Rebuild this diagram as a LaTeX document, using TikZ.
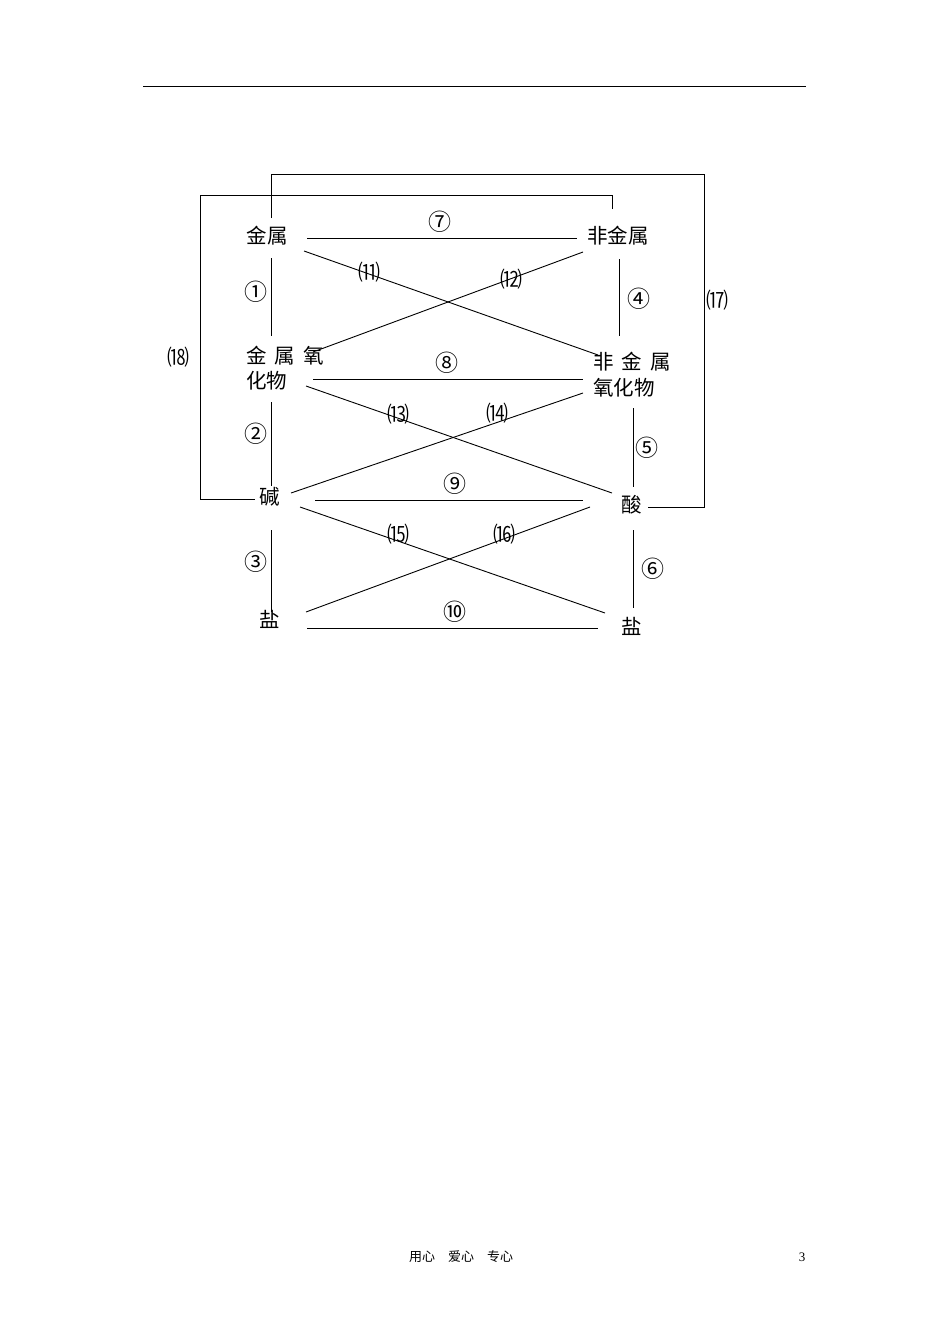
\documentclass[tikz,border=0pt]{standalone}
\usepackage{fontspec}
\setmainfont{Liberation Serif}
\newfontfamily\cjk{Noto Sans CJK SC}
\begin{document}
\begin{tikzpicture}[x=1pt,y=-1pt,
  lbl/.style={font=\cjk\fontsize{20.5}{20.5}\selectfont, inner sep=0pt},
  num/.style={font=\cjk\fontsize{23}{23}\selectfont, inner sep=0pt},
  pnum/.style={font=\cjk\fontsize{22}{22}\selectfont, inner sep=0pt},
  foot/.style={font=\cjk\fontsize{13}{13}\selectfont, inner sep=0pt},
  ln/.style={line width=0.9pt, black}]
\useasboundingbox (0,0) rectangle (950,1344);
% header rule
\coordinate (h1) at (143,86); \coordinate (h2) at (806,86);
\draw[line width=0.9pt] (h1) -- (h2);
% nodes
\node[lbl] (js) at (267,236) {金属};
\node[lbl] (fjs) at (618,236) {非金属};
\node[lbl, anchor=west] (jsy1) at (246,356) {金\hspace{8pt}属\hspace{8pt}氧};
\node[lbl, anchor=west] (jsy2) at (246,381) {化物};
\node[lbl, anchor=west] (fjy1) at (593,362) {非\hspace{8pt}金\hspace{8pt}属};
\node[lbl, anchor=west] (fjy2) at (593,388) {氧化物};
\node[lbl] (jian) at (270,497) {碱};
\node[lbl] (suan) at (632,505) {酸};
\node[lbl] (yanl) at (270,619) {盐};
\node[lbl] (yanr) at (632,626) {盐};
% numbers
\node[num] (n1) at (256,292) {①};
\node[num] (n2) at (256,434) {②};
\node[num] (n3) at (256,562) {③};
\node[num] (n4) at (639,299) {④};
\node[num] (n5) at (647,448) {⑤};
\node[num] (n6) at (653,569) {⑥};
\node[num] (n7) at (440,222) {⑦};
\node[num] (n8) at (447,363) {⑧};
\node[num] (n9) at (455,484) {⑨};
\node[num] (n10) at (455,612) {⑩};
\node[pnum] (n11) at (369,272) {⑾};
\node[pnum] (n12) at (511,279) {⑿};
\node[pnum] (n13) at (398,414) {⒀};
\node[pnum] (n14) at (497,413) {⒁};
\node[pnum] (n15) at (398,534) {⒂};
\node[pnum] (n16) at (504,534) {⒃};
\node[pnum] (n17) at (717,300) {⒄};
\node[pnum] (n18) at (178,357) {⒅};
% footer
\node[foot] (ft) at (461,1257) {用心\hspace{13pt}爱心\hspace{13pt}专心};
\node[font=\fontsize{13}{13}\selectfont, inner sep=0pt] (pg) at (802,1257) {3};
% coordinates for connectors
\coordinate (a1) at (307,238); \coordinate (a2) at (577,238);
\coordinate (b1) at (313,379); \coordinate (b2) at (583,379);
\coordinate (c1) at (315,500); \coordinate (c2) at (583,500);
\coordinate (d1) at (307,628); \coordinate (d2) at (598,628);
\coordinate (v1a) at (271,258); \coordinate (v1b) at (271,336);
\coordinate (v2a) at (271,402); \coordinate (v2b) at (271,486);
\coordinate (v3a) at (271,530); \coordinate (v3b) at (271,612);
\coordinate (v4a) at (619,259); \coordinate (v4b) at (619,336);
\coordinate (v5a) at (633,408); \coordinate (v5b) at (633,487);
\coordinate (v6a) at (633,530); \coordinate (v6b) at (633,608);
\coordinate (x11a) at (304,251); \coordinate (x11b) at (598,355);
\coordinate (x12a) at (583,252); \coordinate (x12b) at (313,352);
\coordinate (x13a) at (306,386); \coordinate (x13b) at (612,493);
\coordinate (x14a) at (583,393); \coordinate (x14b) at (291,493);
\coordinate (x15a) at (300,507); \coordinate (x15b) at (605,613);
\coordinate (x16a) at (590,507); \coordinate (x16b) at (306,612);
% bracket 17
\coordinate (k1) at (271,218); \coordinate (k2) at (271,174);
\coordinate (k3) at (704,174); \coordinate (k4) at (704,507);
\coordinate (k5) at (648,507);
% bracket 18
\coordinate (m1) at (612,209); \coordinate (m2) at (612,195);
\coordinate (m3) at (200,195); \coordinate (m4) at (200,499);
\coordinate (m5) at (255,499);
% connectors
\draw[ln] (a1) -- (a2);
\draw[ln] (b1) -- (b2);
\draw[ln] (c1) -- (c2);
\draw[ln] (d1) -- (d2);
\draw[ln] (v1a) -- (v1b);
\draw[ln] (v2a) -- (v2b);
\draw[ln] (v3a) -- (v3b);
\draw[ln] (v4a) -- (v4b);
\draw[ln] (v5a) -- (v5b);
\draw[ln] (v6a) -- (v6b);
\draw[ln] (x11a) -- (x11b);
\draw[ln] (x12a) -- (x12b);
\draw[ln] (x13a) -- (x13b);
\draw[ln] (x14a) -- (x14b);
\draw[ln] (x15a) -- (x15b);
\draw[ln] (x16a) -- (x16b);
\draw[ln] (k1) -- (k2) -- (k3) -- (k4) -- (k5);
\draw[ln] (m1) -- (m2) -- (m3) -- (m4) -- (m5);
\end{tikzpicture}
\end{document}
